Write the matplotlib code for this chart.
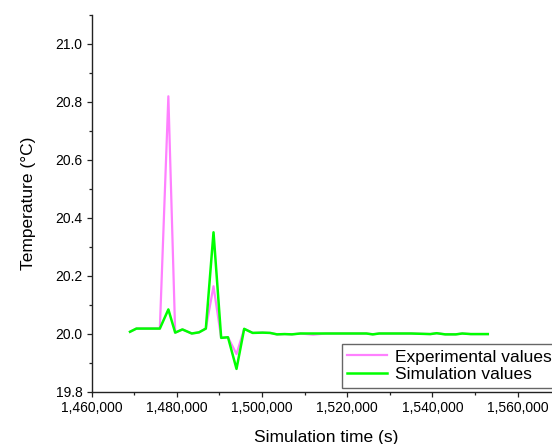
import matplotlib.pyplot as plt
from matplotlib.ticker import MultipleLocator, FuncFormatter

#--------------- data -----------------------#
t_sim = [1469000, 1470500, 1476000, 1478000, 1479600, 1481300, 1483500, 1485200,
         1486800, 1488600, 1490400, 1492000, 1494000, 1495800, 1497800, 1500100,
         1501900, 1503500, 1505300, 1507000, 1509000, 1512000, 1515000, 1518000,
         1521000, 1524500, 1526000, 1527500, 1531000, 1535000, 1539500, 1541000,
         1543000, 1545500, 1547000, 1549000, 1553000]

T_exp = [20.006, 20.017, 20.017, 20.818, 20.003, 20.014, 20.000, 20.004,
         20.017, 20.163, 19.985, 19.987, 19.929, 20.016, 20.002, 20.003,
         20.002, 19.997, 19.998, 19.997, 20.000, 19.996, 20.000, 20.000,
         20.000, 20.000, 19.997, 20.000, 20.000, 20.000, 19.998, 20.001,
         19.997, 19.997, 20.000, 19.998, 19.998]

T_sim = [20.006, 20.017, 20.017, 20.083, 20.003, 20.014, 20.000, 20.004,
         20.017, 20.349, 19.985, 19.987, 19.878, 20.016, 20.002, 20.003,
         20.002, 19.997, 19.998, 19.997, 20.000, 20.000, 20.000, 20.000,
         20.000, 20.000, 19.997, 20.000, 20.000, 20.000, 19.998, 20.001,
         19.997, 19.997, 20.000, 19.998, 19.998]

#--------------- plot -----------------------#
plt.rcParams['font.family'] = ['Liberation Sans', 'DejaVu Sans']

fig = plt.figure(figsize=(5.52, 4.44), dpi=100)
ax = fig.add_axes([91.7/552, (444-391.5)/444, (560.2-91.7)/552, (391.5-14.5)/444])

l_exp, = ax.plot(t_sim, T_exp, color='#FF80FF', lw=1.6, label='Experimental values')
l_sim, = ax.plot(t_sim, T_sim, color='#00FF00', lw=1.8, label='Simulation values')

ax.set_xlim(1460000, 1570000)
ax.set_ylim(19.8, 21.1)
ax.xaxis.set_major_locator(MultipleLocator(20000))
ax.xaxis.set_minor_locator(MultipleLocator(10000))
ax.yaxis.set_major_locator(MultipleLocator(0.2))
ax.yaxis.set_minor_locator(MultipleLocator(0.1))
ax.xaxis.set_major_formatter(FuncFormatter(lambda v, p: '{:,.0f}'.format(v)))
ax.yaxis.set_major_formatter(FuncFormatter(lambda v, p: '{:.1f}'.format(v)))

for s in ['top', 'right']:
    ax.spines[s].set_visible(False)
for s in ['left', 'bottom']:
    ax.spines[s].set_linewidth(1.0)
    ax.spines[s].set_color('#222222')

ax.tick_params(which='major', direction='out', length=3.6, width=0.9, labelsize=10, pad=3, color='#222222')
ax.tick_params(which='minor', direction='out', length=1.9, width=0.9, color='#222222')

ax.set_xlabel('Simulation time (s)', fontsize=12.5, labelpad=11)
ax.set_ylabel('Temperature (°C)', fontsize=12.5, labelpad=14)

leg = ax.legend(handles=[l_exp, l_sim], loc='lower left',
                bbox_to_anchor=(342/552, (444-387.5)/444), bbox_transform=fig.transFigure,
                borderaxespad=0, fancybox=False, frameon=True, fontsize=12.5,
                handlelength=2.3, handletextpad=0.45, labelspacing=0.15,
                borderpad=0.3)
leg.get_frame().set_edgecolor('#404040')
leg.get_frame().set_linewidth(1.0)

plt.savefig('out.png', dpi=100)
